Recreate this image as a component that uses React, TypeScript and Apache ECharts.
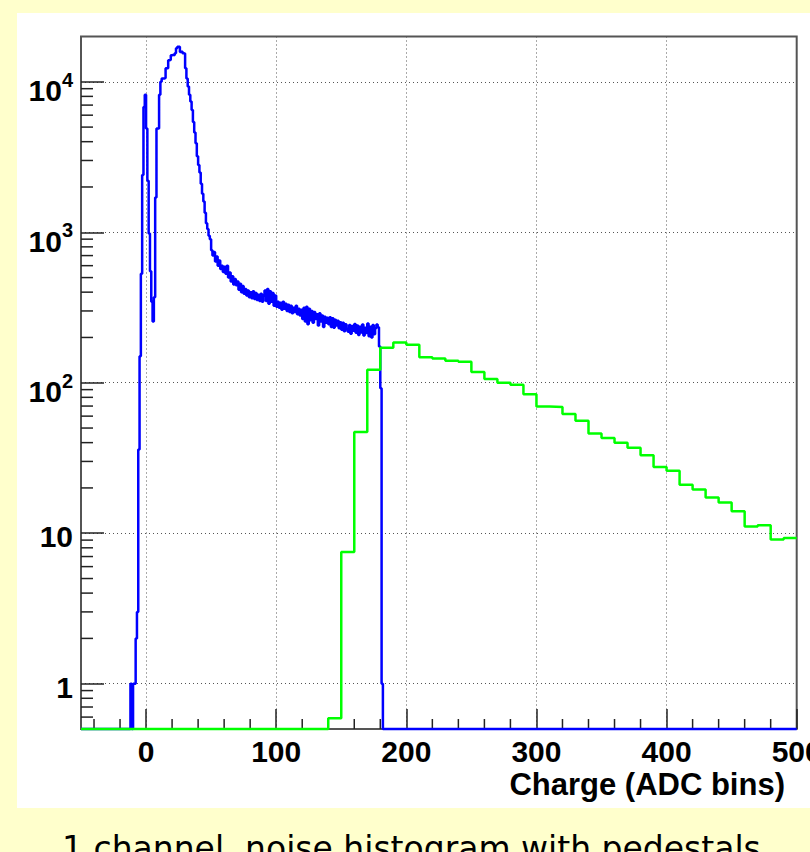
import React, { useEffect, useRef } from "react";
import * as echarts from "echarts";

// ---- axis ranges / ticks ----
const X_MIN = -50;
const X_MAX = 500;
const Y_MIN = 0.5;
const Y_MAX = 20000;
const X_MINOR_STEP = 20;
const Y_MINOR_MULTS = [2, 3, 4, 5, 6, 7, 8, 9];
const Y_BELOW_ONE = [0.6, 0.7, 0.8, 0.9];

// ---- blue histogram: 1 ADC bins, first bin at -12 (others empty) ----
const BLUE_FIRST = -12;
const BLUE_BIN = 1;
const blueCounts = [
  1, 0, 1, 1, 2, 3, 36, 150, 530, 2400, 6800, 8200,
  4900, 2200, 980, 550, 345, 255, 370, 1700, 4900, 4900,
  8200, 10000, 10500, 10500, 10600, 12300, 12300, 13900, 14000, 15000,
  15100, 15000, 15500, 16700, 17100, 17100, 15800, 15900, 15500, 15400,
  12300, 10500, 9300, 8200, 7400, 6500, 5400, 4600, 3900, 3200,
  2800, 2500, 2100, 1800, 1600, 1350, 1150, 1050, 950, 900,
  760, 700, 740, 640, 690, 600, 650, 570, 600, 545,
  590, 530, 600, 500, 540, 470, 510, 450, 490, 445,
  470, 415, 455, 400, 440, 390, 420, 380, 410, 370,
  400, 365, 405, 360, 395, 355, 385, 350, 390, 345,
  380, 410, 350, 420, 335, 405, 345, 395, 325, 380,
  320, 345, 315, 340, 305, 345, 310, 335, 300, 330,
  295, 325, 290, 315, 295, 325, 285, 310, 280, 305,
  265, 315, 255, 320, 245, 310, 260, 300, 250, 295,
  265, 285, 240, 290, 255, 280, 235, 275, 250, 270,
  245, 272, 235, 268, 232, 262, 240, 258, 230, 252,
  225, 250, 220, 245, 228, 218, 242, 212, 238, 222,
  246, 215, 240, 208, 236, 216, 244, 206, 232, 214,
  248, 204, 236, 200, 242, 210, 230, 244, 234, 174,
  92, 1,
];

// ---- green histogram: 10 ADC bins, first bin at 140 (others empty) ----
const GREEN_FIRST = 140;
const GREEN_BIN = 10;
const greenCounts = [
  0.59, 7.5, 47, 122, 171, 185, 179, 148, 145, 140,
  138, 118, 106, 100, 97, 84, 69.5, 69, 62, 56,
  46, 43, 40, 37, 33, 27.5, 26, 21, 19.5, 17.3,
  16, 14, 11.1, 11.3, 9.1, 9.3,
];

const X_TITLE = "Charge (ADC bins)";
const CAPTION = "1 channel, noise histogram with pedestals";

const FONT = '"Liberation Sans", Arial, Helvetica, sans-serif';
const TICK_COLOR = "#222";

function histSteps(first: number, bin: number, counts: number[]): [number, number][] {
  const pts: [number, number][] = [];
  for (let e = X_MIN; e < X_MAX - 1e-9; e += bin) {
    const idx = Math.round((e - first) / bin);
    const c = idx >= 0 && idx < counts.length ? counts[idx] : 0;
    pts.push([e, Math.max(c, Y_MIN)]);
  }
  pts.push([X_MAX, pts[pts.length - 1][1]]);
  return pts;
}

function yMinorTicks(): number[] {
  const out = [...Y_BELOW_ONE];
  for (let d = 1; d <= 1000; d *= 10) {
    for (const m of Y_MINOR_MULTS) out.push(m * d);
  }
  return out;
}

function xMinorTicks(): number[] {
  const out: number[] = [];
  for (let v = -40; v < X_MAX; v += X_MINOR_STEP) {
    if (v % 100 !== 0) out.push(v);
  }
  return out;
}

export default function App() {
  const ref = useRef<HTMLDivElement>(null);

  useEffect(() => {
    if (!ref.current) return;
    const chart = echarts.init(ref.current, undefined, { renderer: "svg" });

    const blueData = histSteps(BLUE_FIRST, BLUE_BIN, blueCounts);
    const greenData = histSteps(GREEN_FIRST, GREEN_BIN, greenCounts);

    chart.setOption({
      animation: false,
      backgroundColor: "transparent",
      grid: {
        left: 81,
        right: 13.3,
        top: 36.5,
        bottom: 123,
        show: true,
        borderColor: "#555",
        borderWidth: 2,
        backgroundColor: "transparent",
        containLabel: false,
        outerBoundsMode: "none",
      },
      xAxis: {
        type: "value",
        min: X_MIN,
        max: X_MAX,
        splitNumber: 5,
        axisLine: { show: false, onZero: false },
        axisTick: {
          show: true,
          inside: true,
          length: 20,
          lineStyle: { color: TICK_COLOR, width: 1.5 },
        },
        axisLabel: {
          show: true,
          margin: 7,
          showMinLabel: false,
          showMaxLabel: true,
          hideOverlap: false,
          color: "#000",
          fontFamily: FONT,
          fontWeight: "bold",
          fontSize: 30,
          formatter: (v: number) => (Math.abs(v % 100) < 1e-9 ? String(v) : ""),
        },
        splitLine: {
          show: true,
          lineStyle: { color: "#555", width: 1, type: [1, 3] },
        },
      },
      yAxis: {
        type: "log",
        logBase: 10,
        min: Y_MIN,
        max: Y_MAX,
        axisLine: { show: false, onZero: false },
        axisTick: {
          show: true,
          inside: true,
          length: 23,
          lineStyle: { color: TICK_COLOR, width: 1.5 },
        },
        axisLabel: {
          show: true,
          margin: 8,
          showMinLabel: false,
          showMaxLabel: false,
          color: "#000",
          formatter: (v: number) => {
            const e = Math.round(Math.log10(v));
            const p = Math.pow(10, e);
            if (Math.abs(v - p) > 1e-6 * p) return "";
            if (e <= 1) return `{n|${p}}`;
            return `{a|10}{b|${e}}`;
          },
          rich: {
            n: {
              fontFamily: FONT,
              fontWeight: "bold",
              fontSize: 30,
              lineHeight: 30,
              color: "#000",
              padding: [7, 0, 0, 0],
            },
            a: {
              fontFamily: FONT,
              fontWeight: "bold",
              fontSize: 30,
              lineHeight: 30,
              color: "#000",
              padding: [18, 0, 0, 0],
            },
            b: {
              fontFamily: FONT,
              fontWeight: "bold",
              fontSize: 20,
              lineHeight: 20,
              color: "#000",
              padding: [0, 0, 4, 0],
            },
          },
        },
        splitLine: {
          show: true,
          lineStyle: { color: "#555", width: 1, type: [1, 3] },
        },
      },
      series: [
        {
          type: "custom",
          name: "yMinor",
          silent: true,
          z: 1,
          data: yMinorTicks().map((v) => [X_MIN, v]),
          renderItem: (_p: any, api: any) => {
            const pt = api.coord([X_MIN, api.value(1)]);
            return {
              type: "line",
              shape: { x1: pt[0], y1: pt[1], x2: pt[0] + 12, y2: pt[1] },
              style: { stroke: TICK_COLOR, lineWidth: 1.5 },
            };
          },
        },
        {
          type: "custom",
          name: "xMinor",
          silent: true,
          z: 1,
          data: xMinorTicks().map((v) => [v, Y_MIN]),
          renderItem: (_p: any, api: any) => {
            const pt = api.coord([api.value(0), Y_MIN]);
            return {
              type: "line",
              shape: { x1: pt[0], y1: pt[1], x2: pt[0], y2: pt[1] - 10 },
              style: { stroke: TICK_COLOR, lineWidth: 1.5 },
            };
          },
        },
        {
          type: "line",
          name: "1 channel",
          step: "end",
          data: blueData,
          showSymbol: false,
          symbol: "none",
          clip: false,
          silent: true,
          z: 3,
          lineStyle: { color: "#0000ff", width: 2.5 },
        },
        {
          type: "line",
          name: "pedestals",
          step: "end",
          data: greenData,
          showSymbol: false,
          symbol: "none",
          clip: false,
          silent: true,
          z: 4,
          lineStyle: { color: "#00ff00", width: 2.5 },
        },
      ],
      graphic: [
        {
          type: "text",
          x: 785,
          y: 784.6,
          silent: true,
          style: {
            text: X_TITLE,
            fill: "#000",
            font: `bold 31px ${FONT}`,
            textAlign: "right",
            textVerticalAlign: "middle",
          },
        },
        {
          type: "text",
          x: 62,
          y: 848.6,
          silent: true,
          style: {
            text: CAPTION,
            fill: "#000",
            font: `33px "Comic Sans MS", "DejaVu Sans", sans-serif`,
            textAlign: "left",
            textVerticalAlign: "middle",
          },
        },
      ],
    });

    return () => chart.dispose();
  }, []);

  return (
    <div
      style={{
        position: "absolute",
        left: 0,
        top: 0,
        width: 810,
        height: 852,
        background: "#ffffcc",
        overflow: "hidden",
      }}
    >
      <div
        style={{
          position: "absolute",
          left: 17,
          top: 13,
          width: 793,
          height: 795,
          background: "#ffffff",
        }}
      />
      <div
        ref={ref}
        style={{ position: "absolute", left: 0, top: 0, width: 810, height: 852 }}
      />
    </div>
  );
}
